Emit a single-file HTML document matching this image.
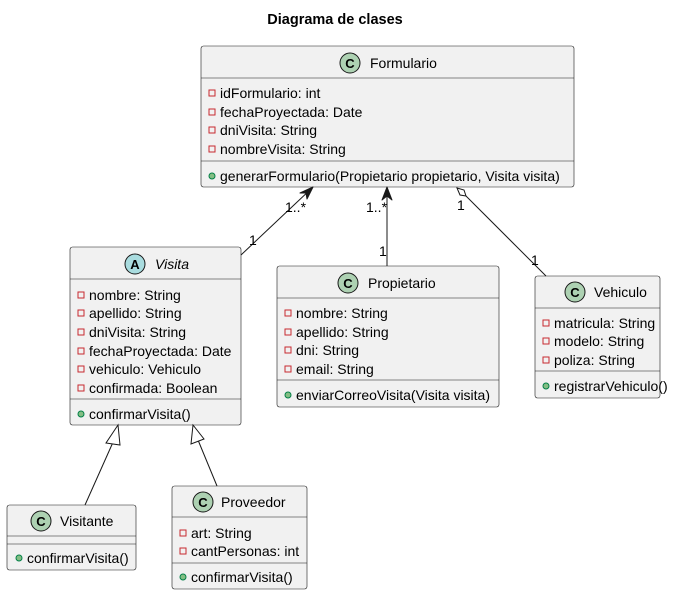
<!DOCTYPE html>
<html><head><meta charset="utf-8"><style>
html,body{margin:0;padding:0;background:#fff;}
svg{display:block;}
text{font-family:"Liberation Sans",sans-serif;font-size:14px;fill:#000;}
.b{fill:#f1f1f1;stroke:#181818;stroke-width:0.6;}
.s{stroke:#181818;stroke-width:0.6;}
.pv{fill:none;stroke:#c82930;stroke-width:1;}
.pb{fill:#84be84;stroke:#038048;stroke-width:1;}
.l{stroke:#181818;stroke-width:1;fill:none;}
.ci{fill:#add1b2;stroke:#181818;stroke-width:1;}
.ca{fill:#a9dcdf;stroke:#181818;stroke-width:1;}
.cl{font-weight:bold;font-size:13px;}
</style></head><body>
<svg width="683" height="595" viewBox="0 0 683 595" xmlns="http://www.w3.org/2000/svg">
<text x="335" y="24" text-anchor="middle" style="font-weight:bold;font-size:14.5px">Diagrama de clases</text>

<!-- Formulario -->
<rect class="b" x="201" y="46" width="373" height="141" rx="2.5"/>
<line class="s" x1="201" y1="78" x2="574" y2="78"/>
<line class="s" x1="201" y1="161" x2="574" y2="161"/>
<circle class="ci" cx="350" cy="63" r="10"/>
<text class="cl" x="350" y="68" text-anchor="middle">C</text>
<text x="370" y="68">Formulario</text>
<rect class="pv" x="209" y="90" width="6" height="6"/><text x="220" y="98">idFormulario: int</text>
<rect class="pv" x="209" y="109" width="6" height="6"/><text x="220" y="117">fechaProyectada: Date</text>
<rect class="pv" x="209" y="127" width="6" height="6"/><text x="220" y="135">dniVisita: String</text>
<rect class="pv" x="209" y="146" width="6" height="6"/><text x="220" y="154">nombreVisita: String</text>
<circle class="pb" cx="212" cy="176" r="3"/><text x="220" y="181">generarFormulario(Propietario propietario, Visita visita)</text>

<!-- Visita -->
<rect class="b" x="70" y="247" width="171" height="178" rx="2.5"/>
<line class="s" x1="70" y1="279" x2="241" y2="279"/>
<line class="s" x1="70" y1="399" x2="241" y2="399"/>
<circle class="ca" cx="135" cy="264" r="10"/>
<text class="cl" x="135" y="269" text-anchor="middle">A</text>
<text x="155" y="269" style="font-style:italic">Visita</text>
<rect class="pv" x="78" y="292" width="6" height="6"/><text x="89" y="300">nombre: String</text>
<rect class="pv" x="78" y="310" width="6" height="6"/><text x="89" y="318">apellido: String</text>
<rect class="pv" x="78" y="329" width="6" height="6"/><text x="89" y="337">dniVisita: String</text>
<rect class="pv" x="78" y="348" width="6" height="6"/><text x="89" y="356">fechaProyectada: Date</text>
<rect class="pv" x="78" y="366" width="6" height="6"/><text x="89" y="374">vehiculo: Vehiculo</text>
<rect class="pv" x="78" y="385" width="6" height="6"/><text x="89" y="393">confirmada: Boolean</text>
<circle class="pb" cx="81" cy="414" r="3"/><text x="89" y="419">confirmarVisita()</text>

<!-- Propietario -->
<rect class="b" x="277" y="266" width="222" height="141" rx="2.5"/>
<line class="s" x1="277" y1="298" x2="499" y2="298"/>
<line class="s" x1="277" y1="380" x2="499" y2="380"/>
<circle class="ci" cx="348" cy="283" r="10"/>
<text class="cl" x="348" y="288" text-anchor="middle">C</text>
<text x="368" y="288">Propietario</text>
<rect class="pv" x="285" y="310" width="6" height="6"/><text x="296" y="318">nombre: String</text>
<rect class="pv" x="285" y="329" width="6" height="6"/><text x="296" y="337">apellido: String</text>
<rect class="pv" x="285" y="347" width="6" height="6"/><text x="296" y="355">dni: String</text>
<rect class="pv" x="285" y="366" width="6" height="6"/><text x="296" y="374">email: String</text>
<circle class="pb" cx="288" cy="395" r="3"/><text x="296" y="400">enviarCorreoVisita(Visita visita)</text>

<!-- Vehiculo -->
<rect class="b" x="535" y="276" width="125" height="122" rx="2.5"/>
<line class="s" x1="535" y1="308" x2="660" y2="308"/>
<line class="s" x1="535" y1="371" x2="660" y2="371"/>
<circle class="ci" cx="575" cy="292" r="10"/>
<text class="cl" x="575" y="297" text-anchor="middle">C</text>
<text x="594" y="297">Vehiculo</text>
<rect class="pv" x="543" y="320" width="6" height="6"/><text x="554" y="328">matricula: String</text>
<rect class="pv" x="543" y="338" width="6" height="6"/><text x="554" y="346">modelo: String</text>
<rect class="pv" x="543" y="357" width="6" height="6"/><text x="554" y="365">poliza: String</text>
<circle class="pb" cx="546" cy="386" r="3"/><text x="554" y="391">registrarVehiculo()</text>

<!-- Visitante -->
<rect class="b" x="7" y="505" width="129" height="65" rx="2.5"/>
<line class="s" x1="7" y1="536" x2="136" y2="536"/>
<line class="s" x1="7" y1="544" x2="136" y2="544"/>
<circle class="ci" cx="41" cy="521" r="10"/>
<text class="cl" x="41" y="526" text-anchor="middle">C</text>
<text x="60" y="526">Visitante</text>
<circle class="pb" cx="19" cy="558" r="3"/><text x="27" y="563">confirmarVisita()</text>

<!-- Proveedor -->
<rect class="b" x="172" y="486" width="135" height="103" rx="2.5"/>
<line class="s" x1="172" y1="517" x2="307" y2="517"/>
<line class="s" x1="172" y1="563" x2="307" y2="563"/>
<circle class="ci" cx="203" cy="502" r="10"/>
<text class="cl" x="203" y="507" text-anchor="middle">C</text>
<text x="221" y="507">Proveedor</text>
<rect class="pv" x="180" y="530" width="6" height="6"/><text x="191" y="538">art: String</text>
<rect class="pv" x="180" y="548" width="6" height="6"/><text x="191" y="556">cantPersonas: int</text>
<circle class="pb" cx="183" cy="577" r="3"/><text x="191" y="582">confirmarVisita()</text>

<!-- connectors -->
<line class="l" x1="241" y1="255" x2="312" y2="188"/>
<path d="M313,187 L300,193 L306,193 L307,199 Z" fill="#181818" stroke="#181818" stroke-linejoin="round"/>
<line class="l" x1="387" y1="266" x2="387" y2="188"/>
<path d="M387,187 L382,200 L387,196 L392,200 Z" fill="#181818" stroke="#181818" stroke-linejoin="round"/>
<line class="l" x1="466" y1="196" x2="546" y2="276"/>
<path d="M457,188 L464,190 L466,196 L460,195 Z" fill="#fff" stroke="#181818"/>
<line class="l" x1="85" y1="505" x2="114" y2="440"/>
<path d="M118,425 L106,443 L120,445 Z" fill="#fff" stroke="#181818"/>
<line class="l" x1="217" y1="486" x2="198" y2="440"/>
<path d="M193,425 L191,444 L204,439 Z" fill="#fff" stroke="#181818"/>

<text x="285" y="212">1..*</text>
<text x="249" y="245">1</text>
<text x="366" y="212">1..*</text>
<text x="379" y="256">1</text>
<text x="457" y="210">1</text>
<text x="531" y="265">1</text>
</svg>
</body></html>
